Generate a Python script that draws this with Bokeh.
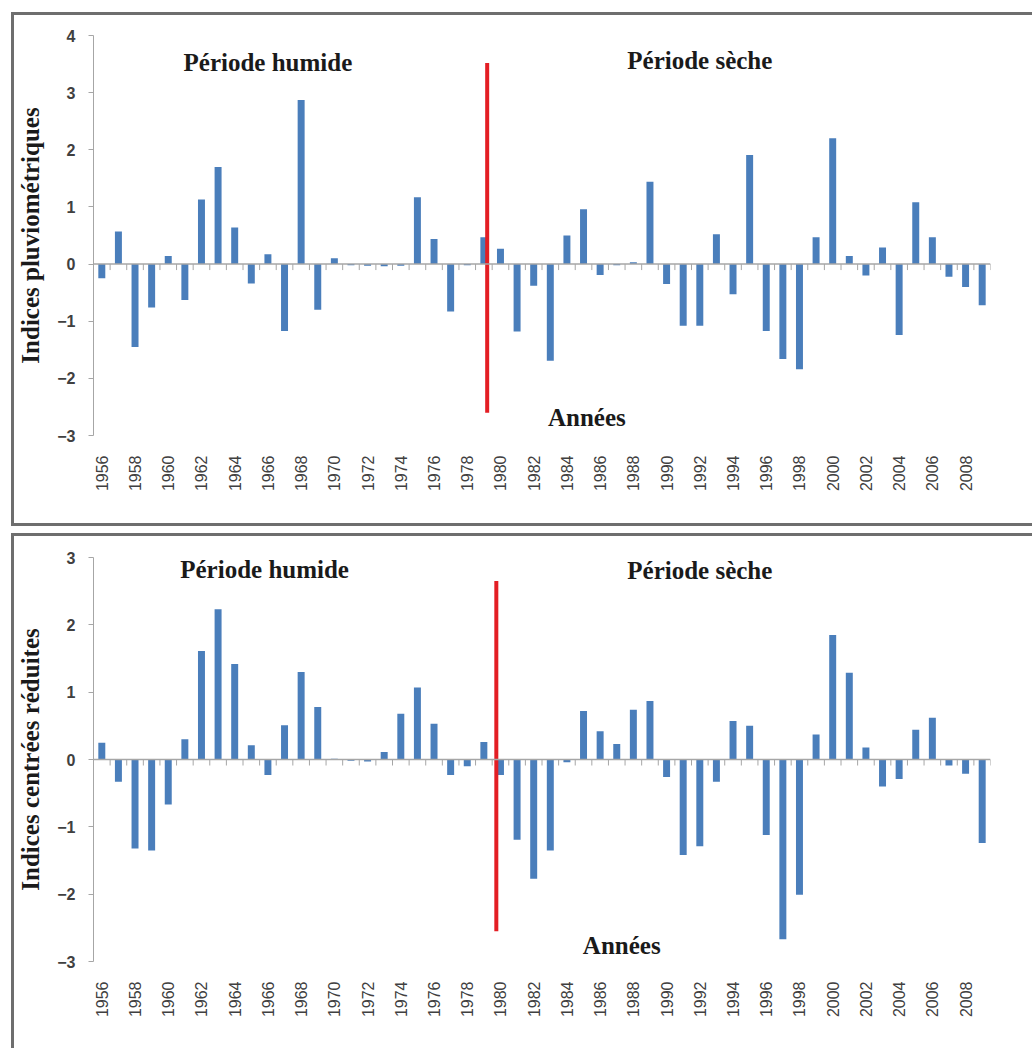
import math

from bokeh.core.properties import value
from bokeh.embed import file_html
from bokeh.layouts import column
from bokeh.models import FixedTicker, Range1d, Span
from bokeh.plotting import figure
from bokeh.resources import INLINE

# Years of record
years = list(range(1956, 2010))

# Rainfall indices (top panel)
indices_pluvio = [
    -0.25, 0.57, -1.45, -0.76, 0.14, -0.63, 1.13, 1.70, 0.64, -0.34,
    0.17, -1.17, 2.87, -0.80, 0.10, -0.02, -0.03, -0.04, -0.03, 1.17,
    0.44, -0.83, -0.02, 0.47, 0.27, -1.18, -0.38, -1.69, 0.50, 0.96,
    -0.19, -0.02, 0.03, 1.44, -0.35, -1.08, -1.08, 0.52, -0.53, 1.91,
    -1.17, -1.66, -1.84, 0.47, 2.20, 0.14, -0.20, 0.29, -1.24, 1.08,
    0.47, -0.22, -0.40, -0.72,
]

# Standardised (centred-reduced) indices (bottom panel)
indices_centres = [
    0.25, -0.33, -1.32, -1.35, -0.67, 0.30, 1.61, 2.23, 1.42, 0.21,
    -0.23, 0.51, 1.30, 0.78, 0.01, -0.02, -0.03, 0.11, 0.68, 1.07,
    0.53, -0.23, -0.10, 0.26, -0.23, -1.19, -1.77, -1.35, -0.04, 0.72,
    0.42, 0.23, 0.74, 0.87, -0.26, -1.42, -1.29, -0.33, 0.57, 0.50,
    -1.12, -2.67, -2.01, 0.37, 1.85, 1.29, 0.18, -0.40, -0.29, 0.44,
    0.62, -0.09, -0.21, -1.24,
]

# Labelled years on the time axis
tick_years = [y for y in years if y % 2 == 0]

BAR_COLOR = "#4a7ebb"
RED = "#e31e24"
AXIS_GRAY = "#a6a6a6"
FRAME_GRAY = "#6e6e6e"
TITLE_FONT = "Liberation Serif"
TICK_FONT = "Liberation Sans"

# left, top and bottom edges of the panel frame, drawn just outside the
# canvas; the shifted copies carry the horizontal edges past the right side
FRAME_SHADOW = ", ".join([
    f"-3px -3px 0 0 {FRAME_GRAY}",
    f"-3px 3px 0 0 {FRAME_GRAY}",
    f"40px -3px 0 0 {FRAME_GRAY}",
    f"40px 3px 0 0 {FRAME_GRAY}",
])


def make_panel(vals, ylabel, ymin, ymax, height, top, frame_h, margin,
               red_x, red_y0, red_y1, humide_xy, seche_xy, annees_xy):
    p = figure(
        width=1018, height=height,
        x_range=Range1d(years[0] - 0.5, years[-1] + 0.5),
        y_range=Range1d(ymin, ymax),
        output_backend="svg", toolbar_location=None,
        min_border_left=79, min_border_right=42,
        min_border_top=top, min_border_bottom=height - top - frame_h,
        margin=margin,
        styles={"box-shadow": FRAME_SHADOW},
    )
    p.outline_line_color = None
    p.xgrid.visible = False
    p.ygrid.visible = False
    p.background_fill_color = "white"
    p.border_fill_color = "white"

    # y axis
    yax = p.yaxis[0]
    yax.ticker = FixedTicker(ticks=list(range(ymin, ymax + 1)))
    yax.minor_tick_line_color = None
    yax.axis_line_color = AXIS_GRAY
    yax.major_tick_line_color = AXIS_GRAY
    yax.major_tick_out = 5
    yax.major_tick_in = 0
    yax.major_label_standoff = 13
    yax.major_label_text_font = TICK_FONT
    yax.major_label_text_font_size = "16px"
    yax.major_label_text_color = "#404040"
    yax.major_label_text_font_style = "bold"
    yax.axis_label = ylabel
    yax.axis_label_text_font = TITLE_FONT
    yax.axis_label_text_font_style = "bold"
    yax.axis_label_text_font_size = "25px"
    yax.axis_label_text_color = "#1a1a1a"
    yax.axis_label_standoff = 10

    # x axis: vertical year labels only
    xax = p.xaxis[0]
    xax.ticker = FixedTicker(ticks=tick_years)
    xax.axis_line_color = None
    xax.major_tick_line_color = None
    xax.minor_tick_line_color = None
    xax.major_tick_out = 0
    xax.major_label_orientation = math.pi / 2
    xax.major_label_standoff = 20
    xax.major_label_text_font = TICK_FONT
    xax.major_label_text_font_size = "16px"
    xax.major_label_text_color = "#404040"

    # zero line with category separators
    p.add_layout(Span(location=0, dimension="width",
                      line_color=AXIS_GRAY, line_width=1.5))
    tick_len = (ymax - ymin) / frame_h * 6
    seps = [y + 0.5 for y in years]
    p.segment(x0=seps, y0=[0] * len(seps), x1=seps, y1=[-tick_len] * len(seps),
              line_color=AXIS_GRAY, line_width=1)

    # bars
    p.vbar(x=years, top=vals, bottom=0, width=0.42,
           fill_color=BAR_COLOR, line_color=None)

    # break between the wet and the dry period
    p.segment(x0=[red_x], y0=[red_y0], x1=[red_x], y1=[red_y1],
              line_color=RED, line_width=4)

    txt = dict(text_font=value(TITLE_FONT), text_font_style="bold",
               text_font_size="25px", text_color="#1a1a1a",
               text_align="center", text_baseline="middle")
    p.text(x=[humide_xy[0]], y=[humide_xy[1]], text=["Période humide"], **txt)
    p.text(x=[seche_xy[0]], y=[seche_xy[1]], text=["Période sèche"], **txt)
    p.text(x=[annees_xy[0]], y=[annees_xy[1]], text=["Années"], **txt)
    return p


p1 = make_panel(indices_pluvio, "Indices pluviométriques", -3, 4,
                508, 20, 400, (15, 0, 0, 14),
                1979.2, 3.52, -2.6,
                (1966.0, 3.52), (1992.0, 3.57), (1985.2, -2.68))
p2 = make_panel(indices_centres, "Indices centrées réduites", -3, 3,
                512, 21, 404, (13, 0, 0, 14),
                1979.75, 2.65, -2.55,
                (1965.8, 2.82), (1992.0, 2.81), (1987.3, -2.76))

page = column(p1, p2, spacing=0)
open("out.html", "w").write(file_html(page, INLINE))
